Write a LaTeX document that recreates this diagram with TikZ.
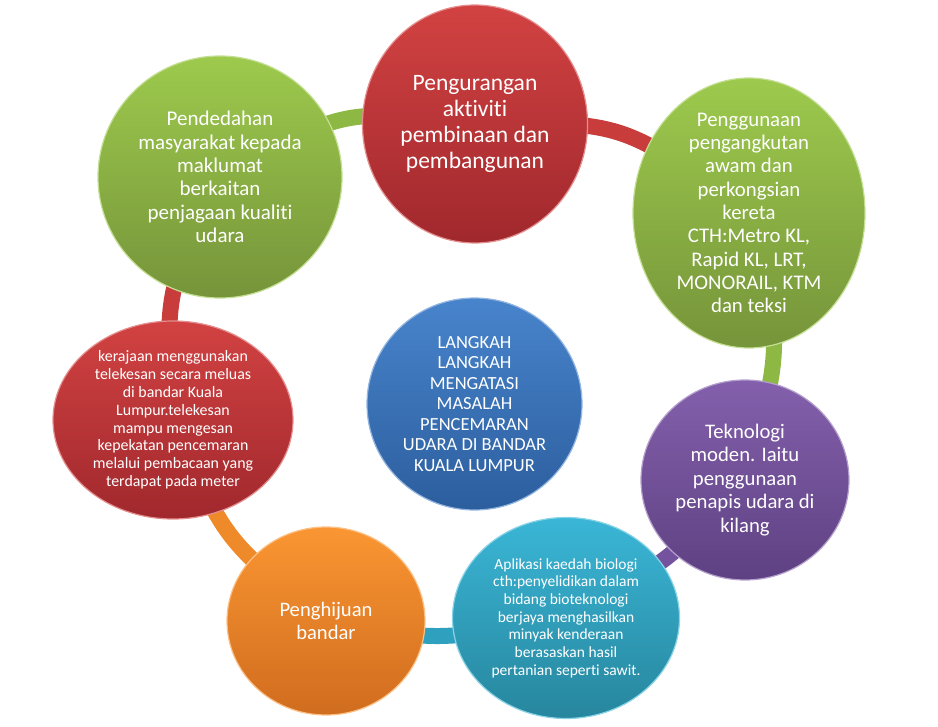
\documentclass[tikz,border=0pt]{standalone}
\usepackage{fontspec}
\setmainfont[Ligatures={NoCommon,NoRare,NoContextual}]{Carlito}
\usetikzlibrary{shapes.geometric}
\pgfdeclarelayer{background}
\pgfsetlayers{background,main}
\definecolor{gTop}{HTML}{9DCA4D}
\definecolor{gBot}{HTML}{76943A}
\definecolor{rTop}{HTML}{D24242}
\definecolor{rBot}{HTML}{A0282D}
\definecolor{bTop}{HTML}{4884CC}
\definecolor{bBot}{HTML}{2C5E9E}
\definecolor{pTop}{HTML}{8460AC}
\definecolor{pBot}{HTML}{5E4182}
\definecolor{cTop}{HTML}{3AB6D6}
\definecolor{cBot}{HTML}{27869E}
\definecolor{oTop}{HTML}{FA9632}
\definecolor{oBot}{HTML}{D06C1E}
\definecolor{gBand}{HTML}{8CB843}
\definecolor{rBand}{HTML}{C83C3C}
\definecolor{pBand}{HTML}{74529E}
\definecolor{cBand}{HTML}{2FA0BE}
\definecolor{oBand}{HTML}{EE8A2A}
\begin{document}
\begin{tikzpicture}[x=1pt,y=-1pt,
  bubble/.style={ellipse, inner sep=0pt, shading=axis, line width=1.2pt},
  txt/.style={text=white, align=center, inner sep=0pt},
  band/.style={line width=16pt, draw=#1}]
\useasboundingbox (0,0) rectangle (938,727);

\node[bubble, minimum width=244pt, minimum height=242pt, top color=gTop, bottom color=gBot, draw=gTop!60!white] (g1) at (220,177) {};
\node[bubble, minimum width=225pt, minimum height=238pt, top color=rTop, bottom color=rBot, draw=rTop!60!white] (r1) at (475,124) {};
\node[bubble, minimum width=232pt, minimum height=270pt, top color=gTop, bottom color=gBot, draw=gTop!60!white] (g2) at (749,213) {};
\node[bubble, minimum width=240pt, minimum height=198pt, top color=rTop, bottom color=rBot, draw=rTop!60!white] (r2) at (173,420) {};
\node[bubble, minimum width=215pt, minimum height=212pt, top color=bTop, bottom color=bBot, draw=bTop!60!white] (b) at (474.5,404) {};
\node[bubble, minimum width=208pt, minimum height=200pt, top color=pTop, bottom color=pBot, draw=pTop!60!white] (p) at (745,480) {};
\node[bubble, minimum width=227pt, minimum height=201pt, top color=cTop, bottom color=cBot, draw=cTop!60!white] (c) at (566,618) {};
\node[bubble, minimum width=198pt, minimum height=188pt, top color=oTop, bottom color=oBot, draw=oTop!60!white] (o) at (326,621) {};

\begin{pgfonlayer}{background}
\draw[band=gBand] (g1.center) .. controls (344.2,108.5) .. (r1.center);
\draw[band=rBand] (r1.center) .. controls (622.7,121.2) .. (g2.center);
\draw[band=gBand] (g2.center) .. controls (783,346) .. (p.center);
\draw[band=pBand] (p.center) .. controls (669.5,561) .. (c.center);
\draw[band=cBand] (c.center) .. controls (438,641.5) .. (o.center);
\draw[band=oBand] (o.center) .. controls (224,540) .. (r2.center);
\draw[band=rBand] (r2.center) .. controls (165,292.4) .. (g1.center);
\end{pgfonlayer}

\node[txt, font=\fontsize{21}{23.4}\selectfont] (tg1) at (g1.center) {Pendedahan\\masyarakat kepada\\maklumat\\berkaitan\\penjagaan kualiti\\udara};
\node[txt, font=\fontsize{23.5}{26.3}\selectfont] (tr1) at (r1.center) {Pengurangan\\aktiviti\\pembinaan dan\\pembangunan};
\node[txt, font=\fontsize{20.8}{23.3}\selectfont] (tg2) at (g2.center) {Penggunaan\\pengangkutan\\awam dan\\perkongsian\\kereta\\CTH:Metro KL,\\Rapid KL, LRT,\\MONORAIL, KTM\\dan teksi};
\node[txt, font=\fontsize{15.9}{17.8}\selectfont] (tr2) at (r2.center) {kerajaan menggunakan\\telekesan secara meluas\\di bandar Kuala\\Lumpur.telekesan\\mampu mengesan\\kepekatan pencemaran\\melalui pembacaan yang\\terdapat pada meter};
\node[txt, font=\fontsize{18.5}{20.5}\selectfont] (tb) at (b.center) {LANGKAH\\LANGKAH\\MENGATASI\\MASALAH\\PENCEMARAN\\UDARA DI BANDAR\\KUALA LUMPUR};
\node[txt, font=\fontsize{20.7}{23.5}\selectfont] (tp) at (p.center) {Teknologi\\moden. Iaitu\\penggunaan\\penapis udara di\\kilang};
\node[txt, font=\fontsize{15.5}{17.7}\selectfont] (tc) at (c.center) {Aplikasi kaedah biologi\\cth:penyelidikan dalam\\bidang bioteknologi\\berjaya menghasilkan\\minyak kenderaan\\berasaskan hasil\\pertanian seperti sawit.};
\node[txt, font=\fontsize{20.6}{23}\selectfont] (to) at (o.center) {Penghijuan\\bandar};
\end{tikzpicture}
\end{document}
